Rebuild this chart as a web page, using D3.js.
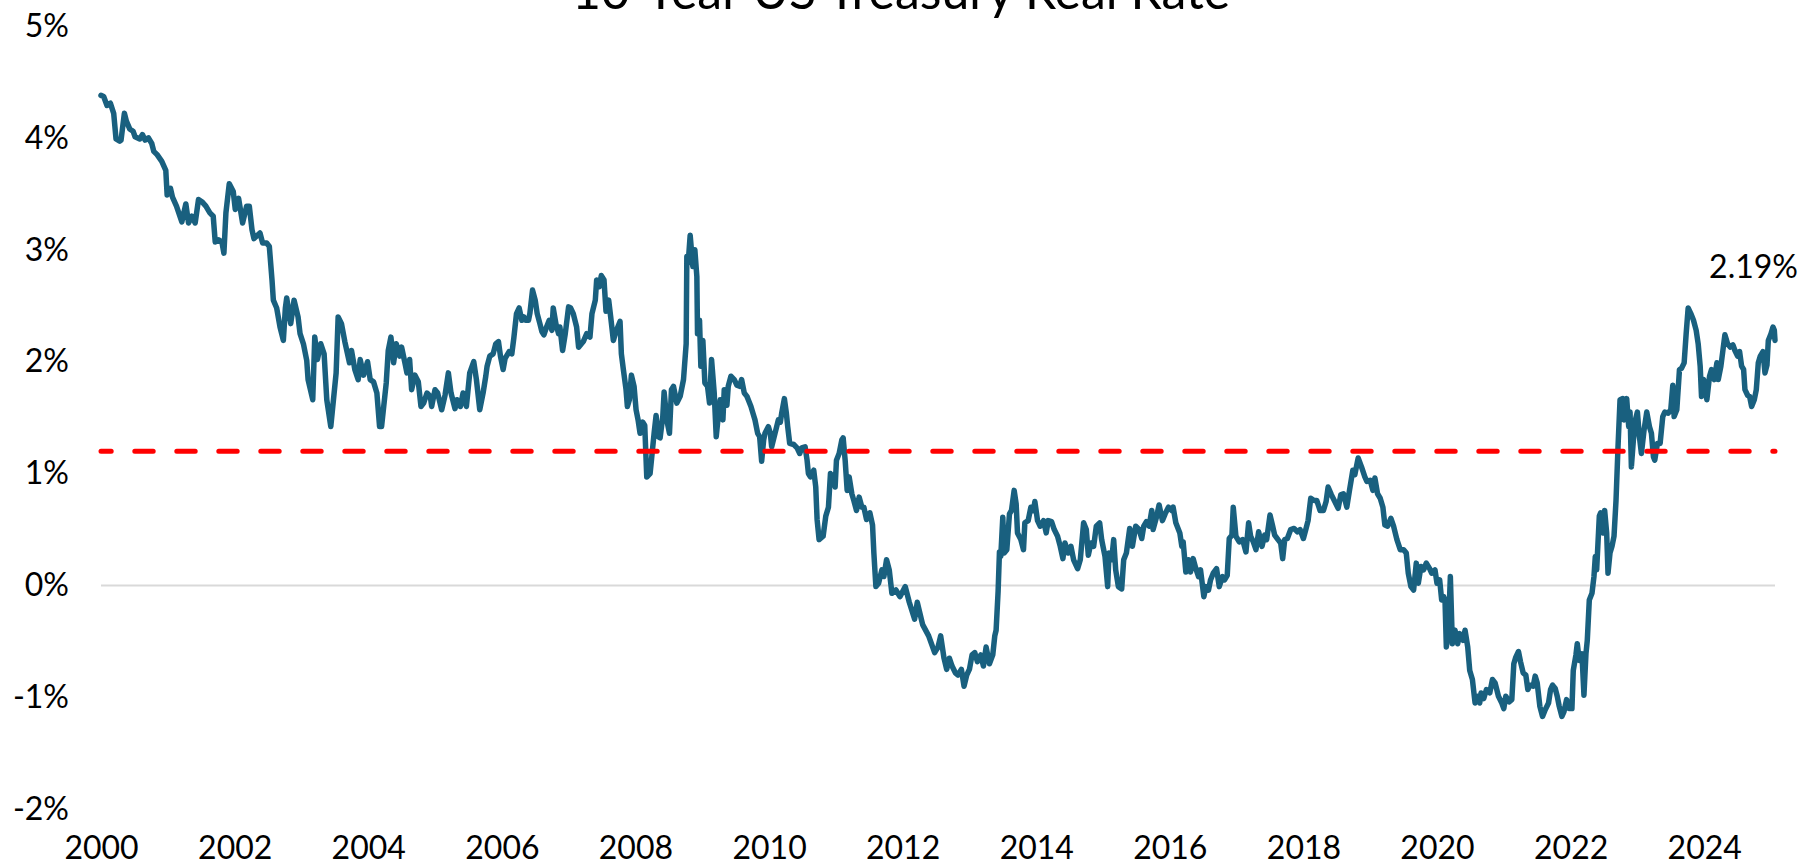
<!DOCTYPE html>
<html>
<head>
<meta charset="utf-8">
<script src="https://cdn.jsdelivr.net/npm/d3@7"></script>
<style>
  html, body { margin: 0; padding: 0; background: #fff; }
  svg { display: block; font-family: Lato, sans-serif; }
</style>
</head>
<body>
<svg id="chart" width="1820" height="866"></svg>
<script>
//
// Data
//

var title = '10-Year US Treasury Real Rate'
// time of each reading, in years since Jan 1 2000
var years = [
  0.00, 0.04, 0.09, 0.14, 0.19, 0.225, 0.28, 0.30, 0.35, 0.38, 0.43, 0.48, 0.51, 0.58, 0.62, 0.66, 0.71, 0.76, 0.79, 0.84,
  0.91, 0.97, 0.99, 1.04, 1.07, 1.13, 1.21, 1.27, 1.31, 1.36, 1.41, 1.46, 1.51, 1.57, 1.63, 1.68, 1.71, 1.76, 1.81, 1.84,
  1.87, 1.92, 1.98, 2.01, 2.06, 2.12, 2.18, 2.22, 2.26, 2.29, 2.38, 2.42, 2.48, 2.52, 2.56, 2.58, 2.63, 2.68, 2.73, 2.76,
  2.78, 2.84, 2.89, 2.95, 2.98, 3.03, 3.08, 3.10, 3.17, 3.20, 3.24, 3.29, 3.34, 3.38, 3.44, 3.52, 3.55, 3.60, 3.65, 3.72,
  3.75, 3.80, 3.85, 3.88, 3.93, 3.99, 4.03, 4.08, 4.13, 4.17, 4.20, 4.27, 4.30, 4.34, 4.38, 4.42, 4.47, 4.50, 4.55, 4.58,
  4.62, 4.65, 4.70, 4.75, 4.79, 4.83, 4.88, 4.93, 4.95, 5.00, 5.04, 5.10, 5.15, 5.20, 5.24, 5.30, 5.33, 5.38, 5.42, 5.47,
  5.52, 5.58, 5.62, 5.67, 5.72, 5.76, 5.78, 5.82, 5.87, 5.91, 5.95, 5.98, 6.02, 6.05, 6.11, 6.15, 6.18, 6.22, 6.26, 6.30,
  6.33, 6.36, 6.40, 6.42, 6.46, 6.50, 6.53, 6.57, 6.60, 6.63, 6.67, 6.71, 6.75, 6.77, 6.81, 6.85, 6.87, 6.91, 6.95, 7.00,
  7.03, 7.07, 7.12, 7.15, 7.22, 7.27, 7.32, 7.35, 7.40, 7.42, 7.46, 7.49, 7.53, 7.56, 7.60, 7.63, 7.67, 7.71, 7.77, 7.79,
  7.82, 7.86, 7.88, 7.91, 7.94, 7.98, 8.01, 8.04, 8.07, 8.11, 8.14, 8.17, 8.22, 8.24, 8.28, 8.31, 8.34, 8.37, 8.41, 8.43,
  8.47, 8.51, 8.54, 8.57, 8.62, 8.67, 8.72, 8.76, 8.77, 8.79, 8.82, 8.86, 8.89, 8.92, 8.93, 8.96, 8.98, 9.01, 9.04, 9.08,
  9.11, 9.14, 9.18, 9.21, 9.24, 9.27, 9.31, 9.33, 9.37, 9.39, 9.43, 9.48, 9.52, 9.56, 9.59, 9.63, 9.67, 9.69, 9.73, 9.76,
  9.79, 9.83, 9.86, 9.89, 9.92, 9.94, 9.99, 10.02, 10.04, 10.09, 10.14, 10.17, 10.19, 10.23, 10.26, 10.28, 10.31, 10.37, 10.42, 10.46,
  10.49, 10.54, 10.57, 10.59, 10.62, 10.67, 10.70, 10.72, 10.75, 10.81, 10.85, 10.89, 10.92, 10.96, 10.99, 11.01, 11.05, 11.09, 11.11, 11.14,
  11.17, 11.20, 11.24, 11.27, 11.31, 11.35, 11.39, 11.42, 11.46, 11.51, 11.55, 11.57, 11.60, 11.64, 11.69, 11.72, 11.76, 11.80, 11.84, 11.90,
  11.96, 12.04, 12.10, 12.18, 12.22, 12.30, 12.39, 12.48, 12.53, 12.57, 12.62, 12.66, 12.70, 12.74, 12.79, 12.83, 12.88, 12.92, 12.96, 13.00,
  13.04, 13.08, 13.12, 13.17, 13.21, 13.25, 13.30, 13.35, 13.38, 13.40, 13.43, 13.45, 13.47, 13.50, 13.52, 13.56, 13.60, 13.63, 13.67, 13.70,
  13.72, 13.77, 13.81, 13.83, 13.88, 13.92, 13.96, 13.98, 14.02, 14.06, 14.11, 14.15, 14.18, 14.23, 14.27, 14.32, 14.36, 14.40, 14.43, 14.48,
  14.52, 14.56, 14.62, 14.66, 14.71, 14.75, 14.78, 14.82, 14.86, 14.90, 14.95, 14.98, 15.03, 15.07, 15.09, 15.13, 15.16, 15.19, 15.23, 15.28,
  15.31, 15.35, 15.40, 15.44, 15.49, 15.54, 15.58, 15.61, 15.65, 15.69, 15.73, 15.75, 15.80, 15.84, 15.89, 15.93, 15.98, 16.03, 16.05, 16.09,
  16.15, 16.18, 16.20, 16.24, 16.28, 16.31, 16.35, 16.39, 16.43, 16.46, 16.51, 16.54, 16.58, 16.61, 16.65, 16.70, 16.74, 16.79, 16.82, 16.86,
  16.89, 16.93, 16.95, 16.99, 17.04, 17.09, 17.14, 17.18, 17.21, 17.25, 17.29, 17.33, 17.38, 17.42, 17.45, 17.50, 17.54, 17.57, 17.62, 17.66,
  17.69, 17.72, 17.76, 17.81, 17.86, 17.91, 17.95, 18.00, 18.04, 18.07, 18.11, 18.16, 18.20, 18.25, 18.30, 18.34, 18.37, 18.42, 18.47, 18.52,
  18.56, 18.60, 18.65, 18.69, 18.74, 18.77, 18.82, 18.87, 18.92, 18.95, 19.00, 19.04, 19.07, 19.11, 19.15, 19.19, 19.22, 19.26, 19.31, 19.35,
  19.40, 19.45, 19.50, 19.54, 19.57, 19.61, 19.65, 19.69, 19.72, 19.76, 19.80, 19.84, 19.89, 19.92, 19.97, 20.00, 20.04, 20.07, 20.10, 20.12,
  20.14, 20.17, 20.20, 20.23, 20.27, 20.31, 20.34, 20.39, 20.42, 20.46, 20.49, 20.53, 20.57, 20.61, 20.64, 20.66, 20.70, 20.74, 20.79, 20.83,
  20.87, 20.92, 20.97, 21.00, 21.03, 21.08, 21.12, 21.15, 21.18, 21.22, 21.25, 21.29, 21.33, 21.36, 21.39, 21.44, 21.47, 21.50, 21.54, 21.58,
  21.62, 21.67, 21.70, 21.73, 21.77, 21.80, 21.83, 21.87, 21.90, 21.94, 21.98, 22.02, 22.04, 22.08, 22.10, 22.13, 22.17, 22.20, 22.23, 22.25,
  22.28, 22.32, 22.35, 22.37, 22.39, 22.43, 22.45, 22.48, 22.51, 22.54, 22.56, 22.59, 22.62, 22.65, 22.68, 22.71, 22.74, 22.78, 22.80, 22.84,
  22.87, 22.89, 22.91, 22.94, 22.97, 23.00, 23.03, 23.06, 23.10, 23.14, 23.18, 23.21, 23.24, 23.26, 23.30, 23.34, 23.38, 23.41, 23.46, 23.50,
  23.53, 23.55, 23.59, 23.63, 23.66, 23.70, 23.73, 23.76, 23.80, 23.84, 23.88, 23.91, 23.94, 23.96, 23.99, 24.01, 24.04, 24.08, 24.11, 24.15,
  24.19, 24.21, 24.25, 24.28, 24.31, 24.35, 24.39, 24.43, 24.46, 24.50, 24.53, 24.56, 24.59, 24.61, 24.65, 24.68, 24.71, 24.75, 24.78, 24.81,
  24.84, 24.88, 24.91, 24.94, 24.96, 25.00, 25.03, 25.05, 25.06
]
// 10-year real yield, percent
var rates = [
  4.38, 4.37, 4.29, 4.31, 4.22, 3.99, 3.97, 3.98, 4.22, 4.15, 4.08, 4.06, 4.01, 3.99, 4.03, 3.98, 4.00, 3.95, 3.88, 3.85,
  3.79, 3.71, 3.49, 3.55, 3.47, 3.39, 3.25, 3.41, 3.24, 3.30, 3.24, 3.45, 3.43, 3.39, 3.33, 3.30, 3.07, 3.09, 3.07, 2.97,
  3.33, 3.59, 3.52, 3.36, 3.46, 3.24, 3.39, 3.39, 3.18, 3.10, 3.15, 3.06, 3.06, 3.03, 2.73, 2.55, 2.48, 2.31, 2.19, 2.48,
  2.57, 2.34, 2.55, 2.40, 2.25, 2.16, 2.01, 1.84, 1.66, 2.22, 2.02, 2.16, 2.07, 1.66, 1.42, 1.90, 2.40, 2.34, 2.18, 1.99,
  2.10, 1.93, 1.84, 2.02, 1.88, 2.00, 1.84, 1.82, 1.72, 1.42, 1.42, 1.81, 2.10, 2.22, 1.99, 2.16, 2.05, 2.13, 1.99, 1.90,
  2.02, 1.75, 1.88, 1.82, 1.60, 1.63, 1.72, 1.69, 1.60, 1.75, 1.72, 1.57, 1.70, 1.90, 1.72, 1.58, 1.66, 1.60, 1.72, 1.60,
  1.90, 2.00, 1.84, 1.57, 1.72, 1.87, 1.96, 2.05, 2.07, 2.16, 2.18, 2.05, 1.93, 2.03, 2.09, 2.07, 2.21, 2.43, 2.48, 2.37,
  2.40, 2.37, 2.37, 2.43, 2.64, 2.55, 2.43, 2.34, 2.27, 2.24, 2.31, 2.37, 2.28, 2.48, 2.34, 2.25, 2.31, 2.10, 2.25, 2.49,
  2.48, 2.43, 2.31, 2.13, 2.18, 2.25, 2.22, 2.43, 2.55, 2.73, 2.67, 2.77, 2.73, 2.45, 2.55, 2.40, 2.19, 2.27, 2.36, 2.07,
  1.93, 1.75, 1.60, 1.66, 1.88, 1.78, 1.57, 1.48, 1.36, 1.46, 1.43, 0.97, 1.00, 1.12, 1.36, 1.52, 1.33, 1.32, 1.51, 1.73,
  1.48, 1.36, 1.75, 1.78, 1.63, 1.69, 1.84, 2.16, 2.94, 2.88, 3.13, 2.85, 3.00, 2.76, 2.25, 2.37, 1.96, 2.19, 1.81, 1.78,
  1.63, 2.02, 1.72, 1.33, 1.51, 1.66, 1.48, 1.75, 1.61, 1.78, 1.87, 1.84, 1.79, 1.78, 1.84, 1.72, 1.69, 1.66, 1.60, 1.54,
  1.48, 1.36, 1.33, 1.11, 1.30, 1.36, 1.42, 1.36, 1.24, 1.36, 1.48, 1.46, 1.54, 1.67, 1.54, 1.42, 1.27, 1.26, 1.23, 1.18,
  1.23, 1.24, 1.12, 1.00, 0.97, 1.03, 0.88, 0.59, 0.41, 0.44, 0.62, 0.70, 1.00, 0.97, 0.88, 1.12, 1.18, 1.30, 1.32, 1.12,
  0.85, 0.97, 0.82, 0.76, 0.67, 0.79, 0.70, 0.70, 0.59, 0.65, 0.54, 0.29, -0.01, 0.02, 0.14, 0.08, 0.23, 0.14, -0.07, -0.04,
  -0.10, -0.01, -0.15, -0.30, -0.15, -0.35, -0.45, -0.60, -0.55, -0.45, -0.65, -0.75, -0.65, -0.72, -0.78, -0.80, -0.75, -0.90, -0.80, -0.75,
  -0.62, -0.60, -0.68, -0.62, -0.72, -0.55, -0.70, -0.62, -0.45, -0.40, -0.05, 0.30, 0.26, 0.61, 0.29, 0.32, 0.64, 0.67, 0.85, 0.73,
  0.47, 0.41, 0.32, 0.56, 0.58, 0.70, 0.67, 0.75, 0.58, 0.53, 0.58, 0.47, 0.58, 0.57, 0.50, 0.44, 0.35, 0.24, 0.38, 0.29,
  0.35, 0.23, 0.15, 0.23, 0.56, 0.50, 0.27, 0.38, 0.35, 0.53, 0.56, 0.41, 0.26, -0.01, 0.29, 0.23, 0.41, 0.14, -0.01, -0.03,
  0.23, 0.29, 0.51, 0.35, 0.53, 0.50, 0.42, 0.53, 0.57, 0.53, 0.67, 0.50, 0.61, 0.72, 0.58, 0.64, 0.70, 0.67, 0.70, 0.56,
  0.47, 0.35, 0.39, 0.12, 0.23, 0.12, 0.24, 0.15, 0.08, 0.14, -0.10, -0.01, -0.04, 0.05, 0.11, 0.15, -0.01, 0.08, 0.05, 0.09,
  0.42, 0.45, 0.70, 0.44, 0.39, 0.41, 0.30, 0.56, 0.44, 0.39, 0.32, 0.48, 0.35, 0.45, 0.41, 0.63, 0.53, 0.45, 0.41, 0.38,
  0.24, 0.41, 0.42, 0.50, 0.51, 0.48, 0.50, 0.42, 0.51, 0.58, 0.78, 0.76, 0.76, 0.67, 0.67, 0.75, 0.88, 0.81, 0.75, 0.69,
  0.81, 0.82, 0.70, 0.85, 1.03, 0.99, 1.14, 1.06, 0.97, 0.93, 0.94, 0.85, 0.96, 0.82, 0.78, 0.70, 0.54, 0.53, 0.60, 0.53,
  0.41, 0.32, 0.32, 0.29, 0.11, -0.01, -0.04, 0.20, 0.02, 0.17, 0.14, 0.20, 0.15, 0.11, 0.14, 0.02, 0.05, -0.13, -0.10, -0.13,
  -0.55, -0.40, 0.08, -0.52, -0.40, -0.52, -0.43, -0.49, -0.40, -0.55, -0.76, -0.84, -1.05, -0.99, -1.05, -0.96, -1.01, -0.93, -0.96, -0.84,
  -0.87, -0.99, -1.05, -1.10, -0.99, -1.04, -1.02, -0.70, -0.64, -0.59, -0.68, -0.78, -0.80, -0.93, -0.89, -0.90, -0.81, -0.87, -1.08, -1.17,
  -1.11, -1.05, -0.93, -0.89, -0.92, -0.99, -1.08, -1.17, -1.13, -1.02, -1.10, -1.10, -0.76, -0.62, -0.52, -0.67, -0.61, -0.98, -0.61, -0.49,
  -0.13, -0.07, 0.08, 0.26, 0.14, 0.62, 0.65, 0.47, 0.67, 0.47, 0.11, 0.29, 0.35, 0.44, 0.76, 1.24, 1.66, 1.67, 1.48, 1.67,
  1.42, 1.55, 1.06, 1.30, 1.48, 1.55, 1.33, 1.18, 1.39, 1.55, 1.42, 1.36, 1.15, 1.12, 1.27, 1.27, 1.51, 1.55, 1.54, 1.57,
  1.79, 1.51, 1.57, 1.93, 1.94, 1.99, 2.25, 2.48, 2.43, 2.37, 2.28, 2.16, 1.96, 1.69, 1.84, 1.81, 1.66, 1.87, 1.93, 1.84,
  1.99, 1.84, 1.96, 2.10, 2.24, 2.16, 2.13, 2.15, 2.10, 2.05, 2.09, 1.96, 1.93, 1.75, 1.70, 1.69, 1.60, 1.66, 1.75, 1.99,
  2.05, 2.09, 1.90, 1.97, 2.19, 2.25, 2.31, 2.28, 2.19
]
// long-run average drawn as the dashed reference line
var averageRate = 1.2
var yTicks = [-2, -1, 0, 1, 2, 3, 4, 5]
var xTickYears = [2000, 2002, 2004, 2006, 2008, 2010, 2012, 2014, 2016, 2018, 2020, 2022, 2024]

//
// Configuration
//

var width = 1820
var height = 866
var plotLeft = 101
var plotRight = 1775
var plotTop = 26
var plotBottom = 809.3
var colorLine = '#19607f'
var colorAverage = '#ff0000'
var colorZero = '#d9d9d9'
var colorText = '#000'
var fontSize = 32

//
// Scales
//

var start = Date.UTC(2000, 0, 1)
var yearMs = 365.25 * 864e5
function toDate(yr) { return new Date(start + yr * yearMs) }

var series = years.map(function(yr, i) {
  return { date: toDate(yr), rate: rates[i] }
})

var x = d3.scaleTime()
  .domain(d3.extent(series, function(d) { return d.date }))
  .range([plotLeft, plotRight])

var y = d3.scaleLinear()
  .domain([d3.min(yTicks), d3.max(yTicks)])
  .range([plotBottom, plotTop])

var svg = d3.select('#chart')

//
// Axes
//

var yAxis = svg.append('g')
  .attr('transform', 'translate(' + plotLeft + ',0)')
  .call(d3.axisLeft(y)
    .tickValues(yTicks)
    .tickSize(0)
    .tickPadding(32)
    .tickFormat(function(d) { return d + '%' }))
yAxis.select('.domain').remove()
yAxis.selectAll('text')
  .attr('font-family', 'Lato, sans-serif')
  .attr('font-size', fontSize)
  .attr('fill', colorText)

var xAxis = svg.append('g')
  .attr('transform', 'translate(0,859)')
  .call(d3.axisBottom(x)
    .tickValues(xTickYears.map(function(yr) { return new Date(Date.UTC(yr, 0, 1)) }))
    .tickSize(0)
    .tickFormat(d3.utcFormat('%Y')))
xAxis.select('.domain').remove()
xAxis.selectAll('text')
  .attr('y', 0)
  .attr('dy', 0)
  .attr('font-family', 'Lato, sans-serif')
  .attr('font-size', fontSize)
  .attr('fill', colorText)

// zero line
svg.append('line')
  .attr('x1', plotLeft)
  .attr('x2', plotRight)
  .attr('y1', y(0))
  .attr('y2', y(0))
  .attr('stroke', colorZero)
  .attr('stroke-width', 2)

//
// Series
//

var line = d3.line()
  .x(function(d) { return x(d.date) })
  .y(function(d) { return y(d.rate) })

svg.append('path')
  .datum(series)
  .attr('d', line)
  .attr('fill', 'none')
  .attr('stroke', colorLine)
  .attr('stroke-width', 5.5)
  .attr('stroke-linejoin', 'round')
  .attr('stroke-linecap', 'round')

svg.append('line')
  .attr('x1', plotLeft)
  .attr('x2', plotRight)
  .attr('y1', y(averageRate))
  .attr('y2', y(averageRate))
  .attr('stroke', colorAverage)
  .attr('stroke-width', 5)
  .attr('stroke-dasharray', '18.4,23.6')
  .attr('stroke-dashoffset', 8.2)
  .attr('stroke-linecap', 'round')

// latest value label
var last = series[series.length - 1]
svg.append('text')
  .attr('x', x(last.date) + 23)
  .attr('y', y(last.rate) - 62)
  .attr('text-anchor', 'end')
  .attr('font-size', fontSize)
  .attr('fill', colorText)
  .text(d3.format('.2f')(last.rate) + '%')

// title, clipped by the top edge as in the source image
svg.append('text')
  .attr('x', 901)
  .attr('y', 9)
  .attr('text-anchor', 'middle')
  .attr('font-size', 50)
  .attr('fill', colorText)
  .text(title)
</script>
</body>
</html>
